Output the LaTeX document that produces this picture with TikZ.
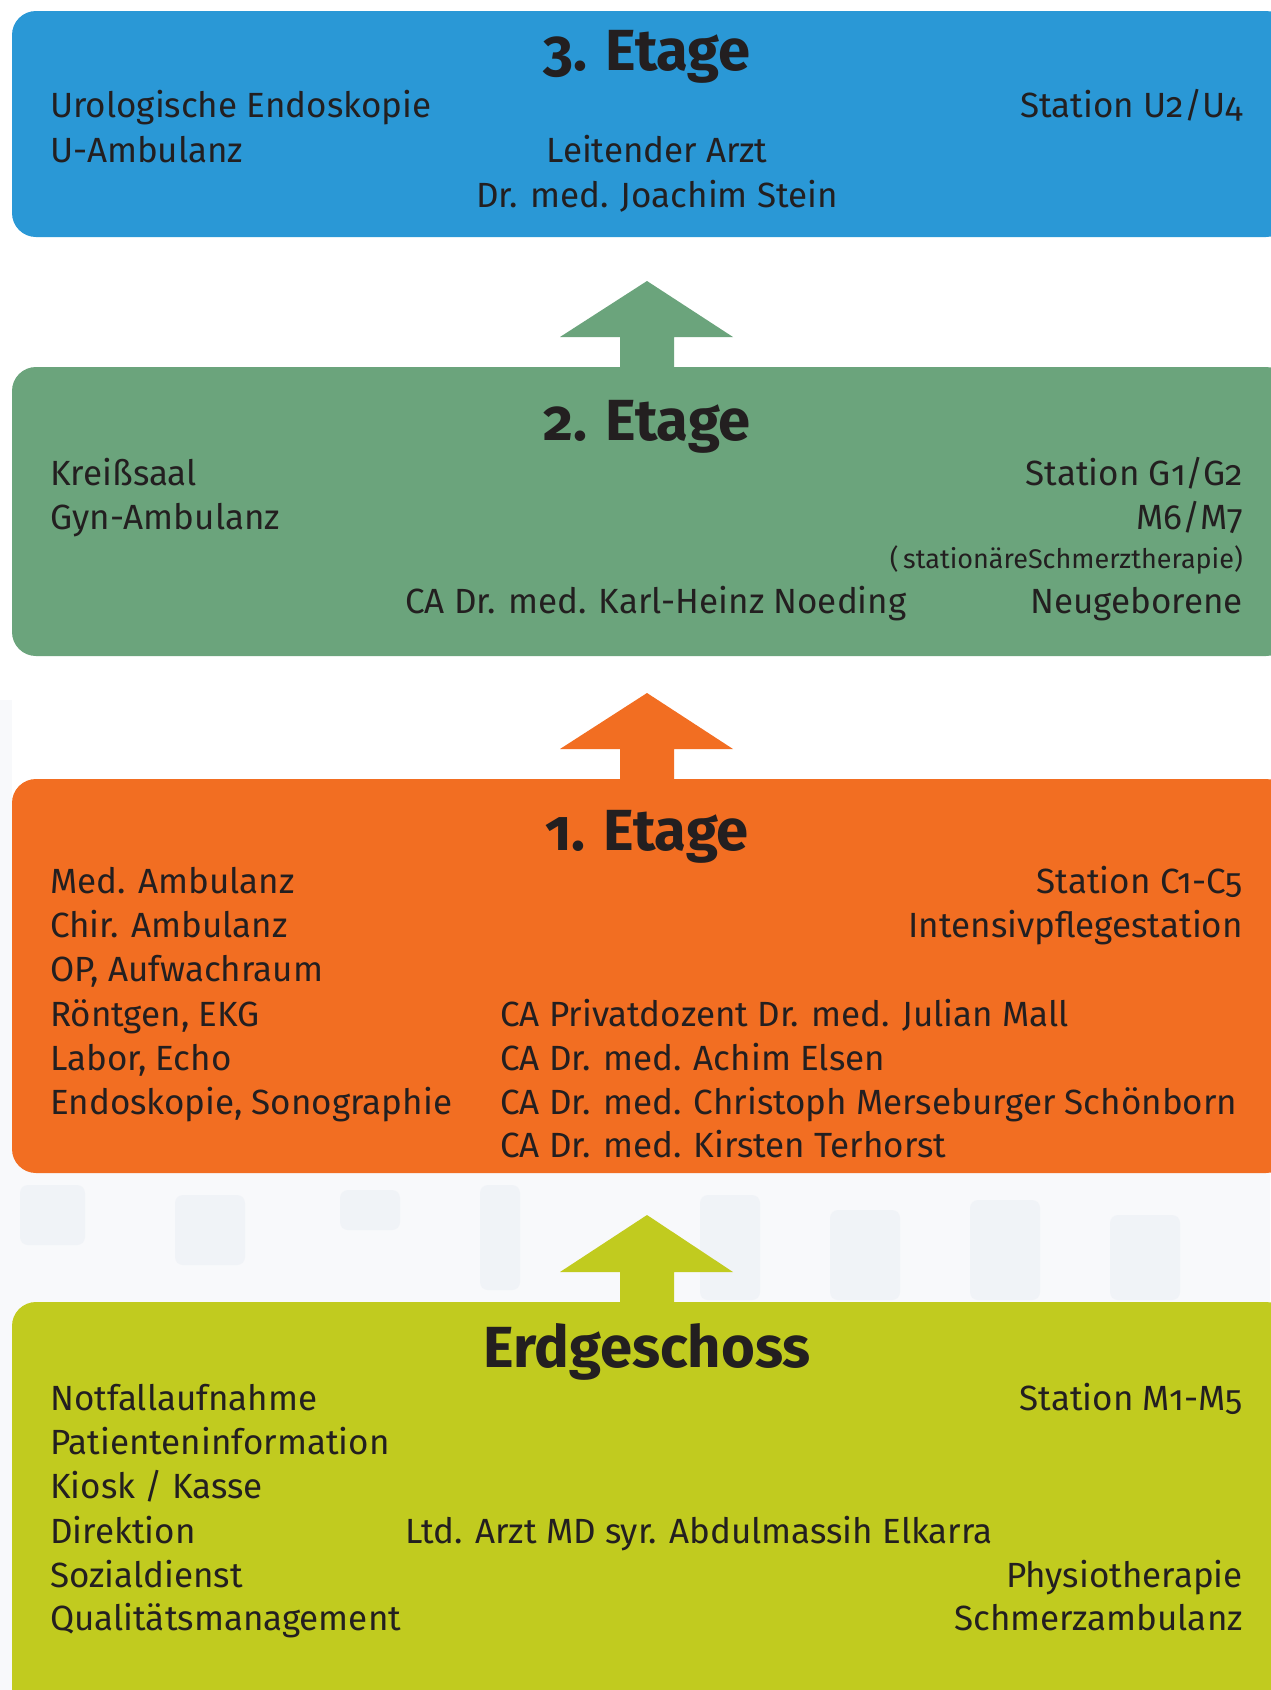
\documentclass[tikz,border=0pt]{standalone}
\usepackage{fontspec}
\setmainfont{Fira Sans}[Numbers=OldStyle]
\definecolor{cblue}{HTML}{2A98D6}
\definecolor{cgreen}{HTML}{6BA47C}
\definecolor{corange}{HTML}{F26E22}
\definecolor{cyellow}{HTML}{C1CB1F}
\definecolor{ctext}{HTML}{231F20}
\definecolor{csketch}{HTML}{F0F3F7}
\definecolor{csketchbg}{HTML}{F8F9FB}
\tikzset{
  floorbox/.style={rounded corners=24pt},
  body/.style={font=\fontsize{35}{42}\selectfont, text=ctext, inner sep=0pt},
  lt/.style={body, anchor=base west},
  rt/.style={body, anchor=base east},
  ct/.style={body, anchor=base},
  small/.style={font=\fontsize{27}{32}\selectfont, text=ctext, inner sep=0pt, anchor=base east},
  head/.style={font=\fontsize{58}{66}\selectfont\bfseries, text=ctext, inner sep=0pt, anchor=base},
  sketch/.style={fill=csketch, rounded corners=8pt}
}
\begin{document}
\begin{tikzpicture}[x=1pt,y=-1pt]
\useasboundingbox (0,0) rectangle (1270,1690);
\fill[white] (0,0) rectangle (1270,1690);
% faint background sketch
\fill[csketchbg] (0,1150) rectangle (1270,1690);
\fill[csketchbg] (0,700) rectangle (12,1150);
\fill[sketch] (20,1185) rectangle (85,1245);
\fill[sketch] (175,1195) rectangle (245,1265);
\fill[sketch] (340,1190) rectangle (400,1230);
\fill[sketch] (480,1185) rectangle (520,1290);
\fill[sketch] (700,1195) rectangle (760,1300);
\fill[sketch] (830,1210) rectangle (900,1300);
\fill[sketch] (970,1200) rectangle (1040,1300);
\fill[sketch] (1110,1215) rectangle (1180,1300);
% floor boxes
\fill[cblue, floorbox] (12,11) rectangle (1290,237);
\fill[cgreen, floorbox] (12,367) rectangle (1290,656);
\fill[corange, floorbox] (12,779) rectangle (1290,1173);
\fill[cyellow, floorbox] (12,1302) rectangle (1290,1720);
% arrows
\coordinate (a3) at (647,281);
\coordinate (a2) at (647,693);
\coordinate (a1) at (647,1215);
\fill[cgreen] (a3) -- (733,337) -- (674,337) -- (674,370) -- (620,370) -- (620,337) -- (560,337) -- cycle;
\fill[corange] (a2) -- (733,749) -- (674,749) -- (674,782) -- (620,782) -- (620,749) -- (560,749) -- cycle;
\fill[cyellow] (a1) -- (733,1272) -- (674,1272) -- (674,1305) -- (620,1305) -- (620,1272) -- (560,1272) -- cycle;
% 3. Etage
\node[head] (h3) at (647,70) {3. Etage};
\node[lt] (t3a) at (50,117) {Urologische Endoskopie};
\node[lt] (t3b) at (50,162) {U-Ambulanz};
\node[rt] (t3c) at (1243,117) {Station U2/U4};
\node[ct] (t3d) at (657,162) {Leitender Arzt};
\node[ct] (t3e) at (657,207) {Dr. med. Joachim Stein};
% 2. Etage
\node[head] (h2) at (647,440) {2. Etage};
\node[lt] (t2a) at (50,485) {Kreißsaal};
\node[lt] (t2b) at (50,529) {Gyn-Ambulanz};
\node[rt] (t2c) at (1243,485) {Station G1/G2};
\node[rt] (t2d) at (1243,529) {M6/M7};
\node[small] (t2e) at (1243,568) {(\,stationäreSchmerztherapie)};
\node[lt] (t2f) at (405,613) {CA Dr. med. Karl-Heinz Noeding};
\node[rt] (t2g) at (1243,613) {Neugeborene};
% 1. Etage
\node[head] (h1) at (647,850) {1. Etage};
\node[lt] (t1a) at (50,893) {Med. Ambulanz};
\node[lt] (t1b) at (50,937) {Chir. Ambulanz};
\node[lt] (t1c) at (50,981) {OP, Aufwachraum};
\node[lt] (t1d) at (50,1026) {Röntgen, EKG};
\node[lt] (t1e) at (50,1070) {Labor, Echo};
\node[lt] (t1f) at (50,1114) {Endoskopie, Sonographie};
\node[rt] (t1g) at (1243,893) {Station C1-C5};
\node[rt] (t1h) at (1243,937) {Intensivpflegestation};
\node[lt] (t1i) at (500,1026) {CA Privatdozent Dr. med. Julian Mall};
\node[lt] (t1j) at (500,1070) {CA Dr. med. Achim Elsen};
\node[lt] (t1k) at (500,1114) {CA Dr. med. Christoph Merseburger Schönborn};
\node[lt] (t1l) at (500,1157) {CA Dr. med. Kirsten Terhorst};
% Erdgeschoss
\node[head] (h0) at (647,1367) {Erdgeschoss};
\node[lt] (t0a) at (50,1410) {Notfallaufnahme};
\node[lt] (t0b) at (50,1454) {Patienteninformation};
\node[lt] (t0c) at (50,1498) {Kiosk / Kasse};
\node[lt] (t0d) at (50,1543) {Direktion};
\node[lt] (t0e) at (50,1587) {Sozialdienst};
\node[lt] (t0f) at (50,1630) {Qualitätsmanagement};
\node[rt] (t0g) at (1243,1410) {Station M1-M5};
\node[lt] (t0h) at (405,1543) {Ltd. Arzt MD syr. Abdulmassih Elkarra};
\node[rt] (t0i) at (1243,1587) {Physiotherapie};
\node[rt] (t0j) at (1243,1630) {Schmerzambulanz};
\end{tikzpicture}
\end{document}
